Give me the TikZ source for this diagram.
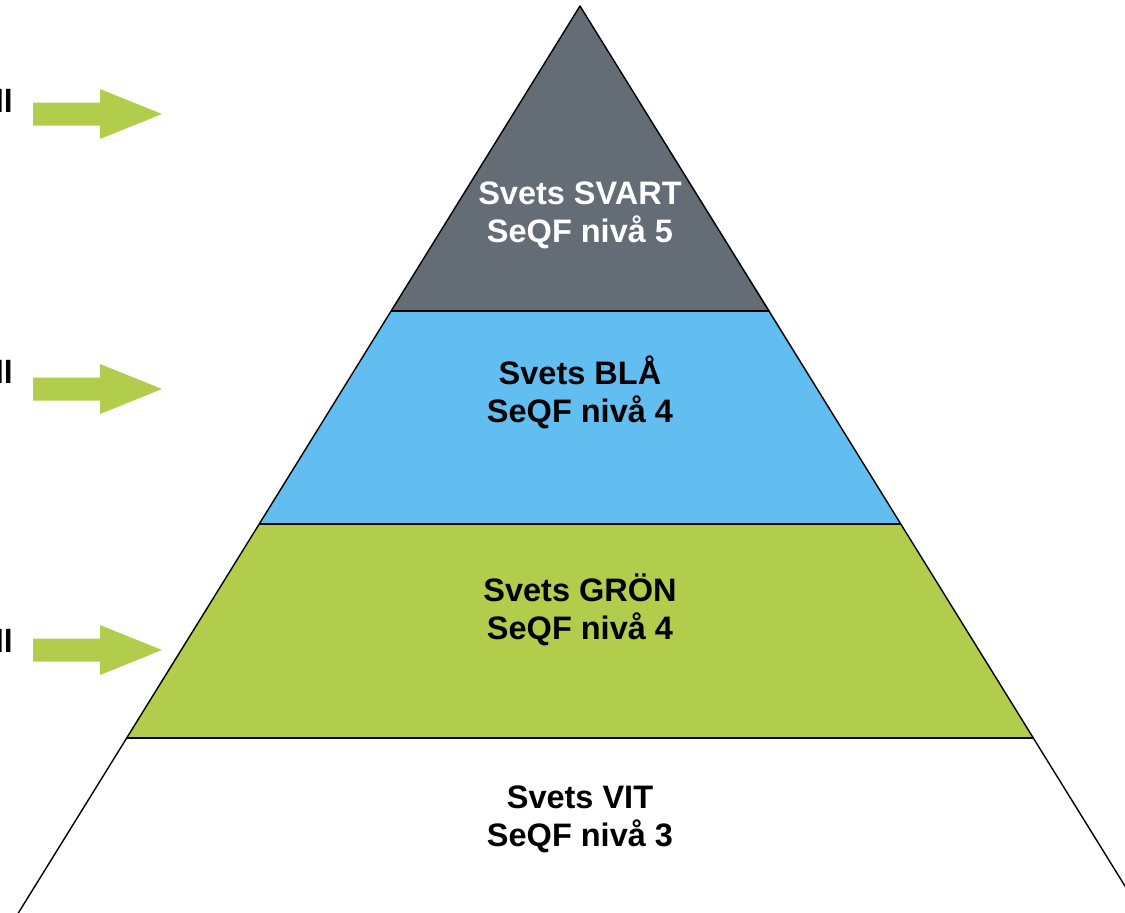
\documentclass[tikz,border=0pt]{standalone}
\usepackage{fontspec}
\setmainfont{Liberation Sans}
\definecolor{svart}{HTML}{646C76}
\definecolor{bla}{HTML}{62BEF0}
\definecolor{gron}{HTML}{B2CD4B}
\begin{document}
\begin{tikzpicture}[x=1pt,y=-1pt,
  band/.style={draw=black,line width=1.4pt,line join=round},
  lbl/.style={font=\fontsize{32.5}{38}\selectfont\bfseries,align=center,inner sep=0pt},
  cut/.style={font=\fontsize{32}{38}\selectfont\bfseries,anchor=east,inner sep=0pt},
  garrow/.style={fill=gron}]
\useasboundingbox (0,0) rectangle (1125,913);
% bands
\coordinate (apex) at (580,6);
\coordinate (bl) at (14,920);
\coordinate (br) at (1146,920);
\fill[svart] (apex) -- (770,311) -- (391,311) -- cycle;
\fill[bla] (391,311) -- (770,311) -- (901,524) -- (259,524) -- cycle;
\fill[gron] (259,524) -- (901,524) -- (1034,738) -- (126,738) -- cycle;
\draw[band] (bl) -- (apex) -- (br);
\draw[band] (391,311) -- (770,311);
\draw[band] (259,524) -- (901,524);
\draw[band] (126,738) -- (1034,738);
% labels
\node[lbl,text=white] (t5) at (580,215) {Svets SVART\\SeQF nivå 5};
\node[lbl] (t4b) at (580,392) {Svets BLÅ\\SeQF nivå 4};
\node[lbl] (t4g) at (580,610) {Svets GRÖN\\SeQF nivå 4};
\node[lbl] (t3) at (580,819) {Svets VIT\\SeQF nivå 3};
% cut-off texts at the left edge
\node[cut] (c1) at (13,101) {ll};
\node[cut] (c2) at (13,372) {ll};
\node[cut] (c3) at (13,641) {ll};
% arrows
\foreach \y in {114,389,650}{
  \fill[garrow] (33,\y-11.5) -- (100,\y-11.5) -- (100,\y-25) -- (162,\y)
    -- (100,\y+25) -- (100,\y+11.5) -- (33,\y+11.5) -- cycle;
}
\end{tikzpicture}
\end{document}
